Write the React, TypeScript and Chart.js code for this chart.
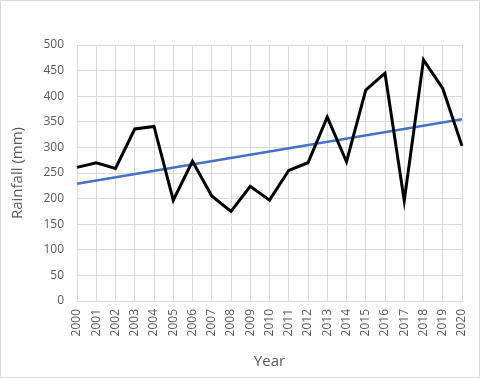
import React, { useEffect, useRef } from "react";
import { Chart, registerables } from "chart.js";

Chart.register(...registerables);

const years = ["2000","2001","2002","2003","2004","2005","2006","2007","2008","2009","2010","2011","2012","2013","2014","2015","2016","2017","2018","2019","2020"];
const rainfall = [261, 270, 259, 336, 341, 197, 273, 205, 175, 224, 197, 255, 270, 359, 272, 412, 445, 196, 471, 415, 303];
const trendStart = 229;
const trendEnd = 355;
const yTicks = [0, 50, 100, 150, 200, 250, 300, 350, 400, 450, 500];

export default function App() {
  const ref = useRef<HTMLCanvasElement>(null);
  useEffect(() => {
    if (!ref.current) return;
    const trend = years.map((_, i) => (i === 0 ? trendStart : i === years.length - 1 ? trendEnd : null));
    const font = { family: "'Open Sans', sans-serif", size: 12 };
    const chart = new Chart(ref.current, {
      type: "line",
      data: {
        labels: years,
        datasets: [
          {
            data: rainfall,
            borderColor: "#000000",
            borderWidth: 3,
            pointRadius: 0,
            tension: 0,
            fill: false,
          },
          {
            data: trend,
            borderColor: "#4472C4",
            borderWidth: 2.5,
            pointRadius: 0,
            spanGaps: true,
            fill: false,
          },
        ],
      },
      options: {
        animation: false,
        responsive: false,
        maintainAspectRatio: false,
        layout: { padding: { top: 44, right: 17, bottom: 0, left: 0 } },
        plugins: { legend: { display: false }, tooltip: { enabled: false } },
        scales: {
          x: {
            type: "category",
            offset: false,
            grid: { color: "#d9d9d9", lineWidth: 1, drawTicks: false },
            border: { color: "#d9d9d9", width: 1 },
            ticks: {
              color: "#595959",
              font,
              minRotation: 90,
              maxRotation: 90,
              autoSkip: false,
              padding: 8,
            },
            title: {
              display: true,
              text: "Year",
              color: "#595959",
              font: { family: "'Open Sans', sans-serif", size: 15 },
              padding: { top: 0, bottom: 6 },
            },
            afterFit: (s: any) => {
              s.height = 76;
              s.paddingRight = 0;
              s.paddingLeft = 0;
            },
          },
          y: {
            min: 0,
            max: 500,
            afterBuildTicks: (s: any) => { s.ticks = yTicks.map((v) => ({ value: v })); },
            grid: { color: "#d9d9d9", lineWidth: 1, drawTicks: false },
            border: { color: "#d9d9d9", width: 1 },
            ticks: { color: "#595959", font, padding: 13 },
            title: {
              display: true,
              text: "Rainfall (mm)",
              color: "#595959",
              font: { family: "'Open Sans', sans-serif", size: 15 },
              padding: { top: 8, bottom: 0 },
            },
            afterFit: (s: any) => {
              s.width = 76;
              s.paddingTop = 0;
              s.paddingBottom = 0;
            },
          },
        },
      },
    });
    return () => chart.destroy();
  }, []);
  return (
    <div
      style={{
        position: "fixed",
        left: 0,
        top: 0,
        width: 480,
        height: 378,
        boxSizing: "border-box",
        border: "1px solid #d9d9d9",
        background: "#ffffff",
      }}
    >
      <canvas ref={ref} width={478} height={376} style={{ display: "block", width: 478, height: 376 }} />
    </div>
  );
}
